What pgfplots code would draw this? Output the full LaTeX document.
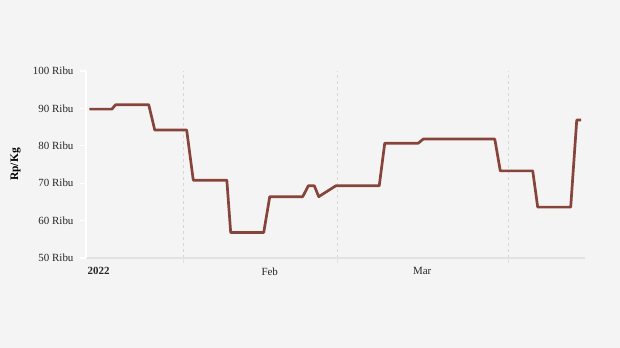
\documentclass[border=0pt]{standalone}
\usepackage{pgfplots}
\pgfplotsset{compat=1.18}
\usepackage{fontspec}
\setmainfont{Liberation Serif}
\definecolor{bg}{HTML}{F4F4F4}
\definecolor{linec}{RGB}{135,68,58}
\definecolor{gridc}{HTML}{D6D6D6}
\definecolor{axisc}{HTML}{E2E2E2}
\begin{document}
\begin{tikzpicture}
\fill[bg] (0,0) rectangle (620bp,348bp);
\begin{axis}[
  at={(86bp,90bp)}, anchor=south west,
  scale only axis, width=499bp, height=187bp,
  xmin=13.2, xmax=103.9, ymin=50, ymax=100,
  axis x line*=bottom, axis y line*=left,
  x axis line style={draw=axisc, line width=1.3bp, -},
  y axis line style={draw=white, line width=1.6bp, -},
  xtick={15.5,46.6,74.3},
  xticklabels={\textbf{2022},Feb,Mar},
  minor xtick={31,59,90},
  xminorgrids=true,
  minor x grid style={draw=gridc, line width=1bp, dash pattern=on 3bp off 3bp},
  major x tick style={draw=none},
  minor x tick style={draw=axisc, line width=1bp},
  minor tick length=5bp,
  ytick={50,60,70,80,90,100},
  yticklabels={50 Ribu,60 Ribu,70 Ribu,80 Ribu,90 Ribu,100 Ribu},
  y tick style={draw=white, line width=1.3bp},
  major tick length=6bp,
  tick align=outside,
  ticklabel style={font=\fontsize{11}{13}\selectfont, text=black!85},
  yticklabel style={xshift=-3bp},
  ylabel={\textbf{Rp/Kg}},
  every axis y label/.style={at={(axis description cs:-0.141,0.5)}, rotate=90, anchor=center, font=\fontsize{11.5}{13}\selectfont},
  clip=false,
]
\addplot[color=linec, line width=2.7bp, line join=round] coordinates {
(13.8,89.8) (17.9,89.8) (18.6,91.0) (24.6,91.0) (25.7,84.2) (31.5,84.2)
(32.7,70.8) (38.8,70.8) (39.5,56.8) (45.5,56.8) (46.6,66.4) (52.6,66.4)
(53.6,69.3) (54.7,69.3) (55.5,66.4) (58.6,69.3) (66.5,69.3) (67.5,80.7)
(73.6,80.7) (74.5,81.8) (87.5,81.8) (88.5,73.3) (94.4,73.3) (95.3,63.6)
(101.3,63.6) (102.4,86.9) (103.2,86.9)
};
\end{axis}
\end{tikzpicture}
\end{document}
